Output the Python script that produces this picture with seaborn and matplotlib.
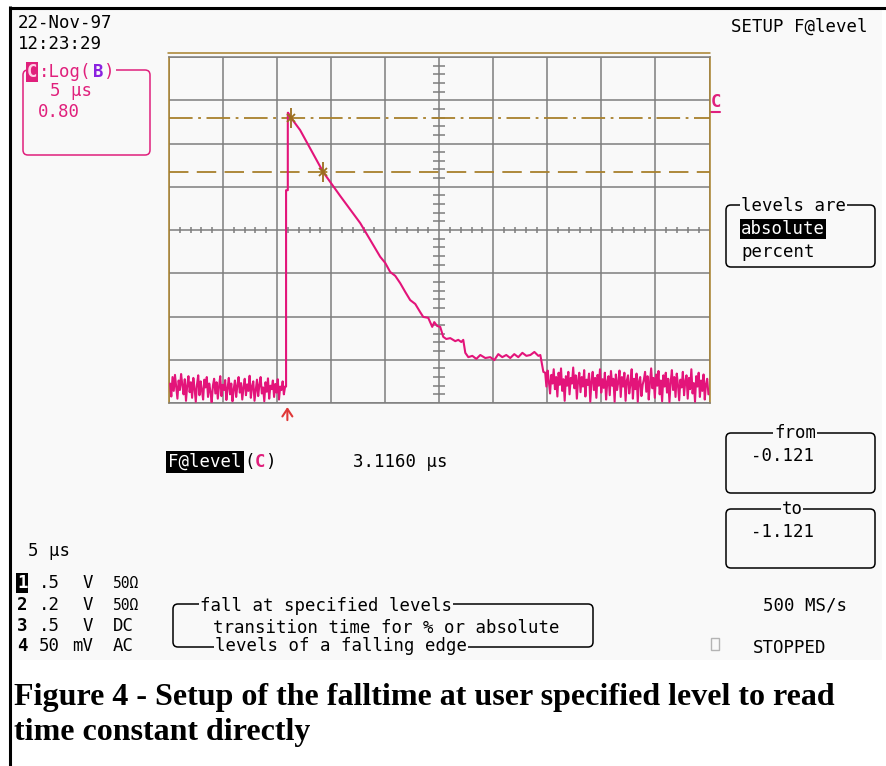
import numpy as np
import pandas as pd
import matplotlib
matplotlib.use("Agg")
import matplotlib.pyplot as plt
import seaborn as sns
from matplotlib.patches import FancyBboxPatch, Rectangle

# ---------------- data ----------------
# time axis: 5 us/div, 10 divisions ; vertical: 8 divisions (channel C = Log(B), 0.80/div)
time_limits = [-25, 25]
level_limits = [-4, 4]
time_major = [-25, -20, -15, -10, -5, 0, 5, 10, 15, 20, 25]
level_major = [-4, -3, -2, -1, 0, 1, 2, 3, 4]

# pre-trigger noise (levels in divisions), sampled from -24.9 us to -14.3 us
pre_level = [-3.55, -3.85, -3.40, -3.72, -3.35, -3.62, -3.90, -3.48, -3.70, -3.33,
             -3.58, -3.80, -3.45, -3.95, -3.60, -3.38, -3.75, -3.52, -3.88, -3.42,
             -3.66, -3.97, -3.57, -3.36, -3.82, -3.50, -3.70, -3.92, -3.46, -3.64,
             -3.40, -3.86, -3.55, -3.74, -3.98, -3.60, -3.44, -3.78, -3.52, -3.90,
             -3.62, -3.38, -3.84, -3.58, -3.70, -3.47, -3.93, -3.66, -3.42, -3.80,
             -3.55, -3.96, -3.68, -3.48, -3.86, -3.60, -3.40, -3.76, -3.54, -3.92,
             -3.64, -3.44, -3.82, -3.57, -3.72, -3.37, -3.88, -3.62, -3.50, -3.95,
             -3.70, -3.46, -3.84, -3.58, -3.40, -3.78, -3.64, -3.96, -3.52, -3.74,
             -3.43, -3.90, -3.60, -3.68, -3.48, -3.86, -3.56, -3.76, -3.45, -3.92,
             -3.62, -3.70, -3.50, -3.80, -3.62]
pre_span = [-24.9, -14.26]

# rising edge + exponential-like fall + plateau
pulse_time = [-14.17, -14.17, -14.01, -14.01, -13.98, -13.70, -12.87, -10.74, -9.17,
              -7.31, -6.39, -5.46, -5.00, -4.54, -4.07, -3.61, -3.15, -2.69, -2.22,
              -1.76, -1.48, -1.02, -0.65, -0.46, -0.19, 0.09, 0.37, 0.65, 1.02, 1.48,
              1.76, 2.04, 2.22, 2.41, 2.69, 3.06, 3.43, 3.80, 4.26, 4.72, 5.09, 5.46,
              5.83, 6.20, 6.57, 6.94, 7.31, 7.69, 8.06, 8.43, 8.80, 9.17, 9.35, 9.63]
pulse_level = [-3.62, 0.92, 0.92, 2.71, 2.71, 2.59, 2.31, 1.34, 0.79,
               0.16, -0.23, -0.62, -0.76, -0.97, -1.06, -1.23, -1.43, -1.62, -1.71,
               -1.90, -2.01, -2.03, -2.24, -2.13, -2.22, -2.24, -2.47, -2.52, -2.50, -2.57,
               -2.54, -2.59, -2.54, -2.84, -2.94, -2.91, -2.98, -2.89, -2.96, -2.94, -3.01, -2.87,
               -2.94, -2.89, -2.96, -2.87, -2.94, -2.84, -2.91, -2.89, -2.82, -2.91, -2.89, -3.28]

# post-step noise, sampled from 9.8 us to 24.9 us
post_level = [-3.30, -3.62, -3.25, -3.50, -3.78, -3.35, -3.55, -3.22, -3.68, -3.40,
              -3.85, -3.30, -3.58, -3.20, -3.72, -3.45, -3.95, -3.38, -3.60, -3.28,
              -3.80, -3.42, -3.55, -3.18, -3.66, -3.36, -3.90, -3.48, -3.30, -3.75,
              -3.40, -3.62, -3.24, -3.85, -3.46, -3.58, -3.32, -3.97, -3.50, -3.28,
              -3.70, -3.42, -3.88, -3.35, -3.60, -3.22, -3.76, -3.45, -3.65, -3.30,
              -3.92, -3.50, -3.38, -3.82, -3.26, -3.60, -3.44, -3.97, -3.34, -3.70,
              -3.52, -3.25, -3.86, -3.40, -3.62, -3.30, -3.95, -3.48, -3.36, -3.78,
              -3.56, -3.22, -3.90, -3.44, -3.68, -3.32, -3.97, -3.50, -3.40, -3.84,
              -3.58, -3.46, -3.28, -3.74, -3.38, -3.92, -3.54, -3.20, -3.66, -3.42,
              -3.88, -3.34, -3.60, -3.26, -3.80, -3.48, -3.96, -3.36, -3.62, -3.30,
              -3.76, -3.44, -3.98, -3.52, -3.24, -3.70, -3.40, -3.86, -3.32, -3.58,
              -3.94, -3.46, -3.64, -3.28, -3.82, -3.50, -3.36, -3.90, -3.42, -3.68,
              -3.22, -3.78, -3.54, -3.97, -3.38, -3.62, -3.30, -3.86, -3.48, -3.72,
              -3.34, -3.92, -3.56, -3.44, -3.80]
post_span = [9.8, 24.9]

# measurement cursors (absolute levels) and their crossing points
cursor_from_level = 2.58
cursor_to_level = 1.34
cross_time = [-13.70, -10.74]
cross_level = [2.58, 1.34]
trigger_time = -14.05

# channel settings
ch_ids = ["1", "2", "3", "4"]
ch_scale = [".5", ".2", ".5", "50"]
ch_unit = ["V", "V", "V", "mV"]
ch_coupling = ["50Ω", "50Ω", "DC", "AC"]

caption_lines = ["Figure 4 - Setup of the falltime at user specified level to read",
                 "time constant directly"]

# ---------------- styling ----------------
sns.set_theme(style="white")
plt.rcParams["font.family"] = ["DejaVu Sans Mono", "DejaVu Sans"]
plt.rcParams["lines.scale_dashes"] = False

W, H = 886, 766
BG = "#f9f9f9"
MAG = "#e0207c"
TRACE = "#e3147a"
GOLD = "#a8802c"
GRID = "#7e7e7e"
PURPLE = "#8a22e0"
MONO = ["DejaVu Sans Mono", "DejaVu Sans"]
FS = 12.5

fig = plt.figure(figsize=(W / 100, H / 100), dpi=100)
fig.patch.set_facecolor("white")

# overlay axes in pixel coordinates for screen annotations
ov = fig.add_axes([0, 0, 1, 1], zorder=0)
ov.set_xlim(0, W)
ov.set_ylim(H, 0)
ov.axis("off")

ov.add_patch(Rectangle((11, 9), 871, 651, facecolor=BG, edgecolor="none"))
ov.plot([9, W], [7.5, 7.5], color="black", lw=2.2, solid_capstyle="butt")
ov.plot([10, 10], [6, H], color="black", lw=2.2, solid_capstyle="butt")


def txt(x, y, s, color="black", weight="normal", size=FS, bg=None, ha="left", pad=0.8):
    kw = {}
    if bg is not None:
        kw["bbox"] = dict(facecolor=bg, edgecolor="none", pad=pad)
    return ov.text(x, y, s, color=color, fontsize=size, fontweight=weight,
                   family=MONO, ha=ha, va="baseline", **kw)


def rbox(x, y, w, h, color="black"):
    ov.add_patch(FancyBboxPatch((x, y), w, h, boxstyle="round,pad=0,rounding_size=5",
                                facecolor="none", edgecolor=color, lw=1.1))


# top-left
txt(18, 28, "22-Nov-97")
txt(18, 49, "12:23:29")
rbox(23, 70, 127, 85, MAG)
txt(27, 77, "C", color="#ffd0e6", weight="bold", bg=MAG, pad=1.0)
txt(39, 77, ":Log(", color=MAG, bg=BG, pad=1.0)
txt(93, 77, "B", color=PURPLE, weight="bold", bg=BG, pad=1.0)
txt(104, 77, ")", color=MAG, bg=BG, pad=1.0)
txt(50, 96, "5 μs", color=MAG)
txt(38, 117, "0.80", color=MAG)

# top-right
txt(731, 32, "SETUP F@level")
rbox(726, 205, 149, 62)
txt(741, 211, "levels are", bg=BG, pad=1.0)
txt(741, 234, "absolute", color="white", bg="black", pad=1.0)
txt(741, 257, "percent")

# channel C marker on right of grid
txt(711, 107, "C", color=MAG, weight="bold")
ov.plot([711, 720], [111.5, 111.5], color=MAG, lw=1.5)

# measurement readout
txt(168, 467, "F@level", color="white", bg="black", pad=1.6)
txt(244.5, 467, "(")
txt(255, 467, "C", color=MAG, weight="bold")
txt(265.5, 467, ")")
txt(353, 467, "3.1160 μs")

# from / to boxes
rbox(726, 433, 149, 60)
txt(795, 438, "from", bg=BG, ha="center", pad=0.6)
txt(751, 461, "-0.121")
rbox(726, 509, 149, 59)
txt(792, 514, "to", bg=BG, ha="center", pad=0.6)
txt(751, 537, "-1.121")

# timebase and channels
txt(28, 556, "5 μs")
row_base = [588, 610, 631, 651]
for i in range(4):
    yb = row_base[i]
    if i == 0:
        txt(17, yb, ch_ids[i], color="white", weight="bold", bg="black", pad=0.6)
    else:
        txt(17, yb, ch_ids[i], weight="bold")
    txt(39, yb, ch_scale[i])
    txt(93, yb, ch_unit[i], ha="right")
    if "Ω" in ch_coupling[i]:
        txt(113, yb, ch_coupling[i], size=10.5)
    else:
        txt(113, yb, ch_coupling[i])

# help box
rbox(173, 604, 420, 43)
txt(200, 611, "fall at specified levels", bg=BG, pad=1.0)
txt(213, 633, "transition time for % or absolute")
txt(215, 651, "levels of a falling edge", bg=BG, pad=1.0)

txt(763, 610, "500 MS/s")
ov.add_patch(Rectangle((711, 638), 8, 12, facecolor="none", edgecolor="#b4b4b4", lw=1))
txt(753, 653, "STOPPED")

# caption
renderer = fig.canvas.get_renderer()
cap1 = ov.text(14, 705, caption_lines[0], family=["Liberation Serif"], fontweight="bold",
               fontsize=20, va="baseline", color="black")
wpx = cap1.get_window_extent(renderer).width
cap_fs = 20 * 822.0 / wpx
cap1.set_fontsize(cap_fs)
ov.text(14, 740, caption_lines[1], family=["Liberation Serif"], fontweight="bold",
        fontsize=cap_fs, va="baseline", color="black")

# ---------------- graticule ----------------
x0, x1, ytop, ybot = 169, 709.5, 57, 403
ax = fig.add_axes([x0 / W, (H - ybot) / H, (x1 - x0) / W, (ybot - ytop) / H], zorder=1)
ax.set_facecolor(BG)
ax.set_xlim(*time_limits)
ax.set_ylim(*level_limits)
ax.set_xticks(time_major)
ax.set_yticks(level_major)
ax.tick_params(length=0, labelbottom=False, labelleft=False)
ax.grid(True, color=GRID, lw=1.1)
ax.set_axisbelow(True)
for side, col in [("left", GOLD), ("right", GOLD), ("top", GRID), ("bottom", GRID)]:
    ax.spines[side].set_visible(True)
    ax.spines[side].set_color(col)
    ax.spines[side].set_linewidth(1.1)

# minor ticks on the centre cross
xt = [v for v in range(-24, 25) if v % 5 != 0]
ax.vlines(xt, -0.08, 0.08, color=GRID, lw=1.1, zorder=1)
yt = [k / 5 for k in range(-19, 20) if k % 5 != 0]
ax.hlines(yt, -0.56, 0.56, color=GRID, lw=1.1, zorder=1)

# cursor frame line above the grid
ax.axhline(4.104, color=GOLD, lw=1.1, clip_on=False, xmin=-0.002, xmax=1.0)

# cursors
l1 = ax.axhline(cursor_from_level, color=GOLD, lw=1.3, zorder=2)
l1.set_dashes([17, 4, 2, 4])
l2 = ax.axhline(cursor_to_level, color=GOLD, lw=1.3, zorder=2)
l2.set_dashes([14, 6])

# trace
t_pre = np.linspace(pre_span[0], pre_span[1], len(pre_level))
t_post = np.linspace(post_span[0], post_span[1], len(post_level))
df = pd.DataFrame({
    "time": np.concatenate([t_pre, pulse_time, t_post]),
    "level": np.concatenate([pre_level, pulse_level, post_level]),
})
sns.lineplot(data=df, x="time", y="level", sort=False, estimator=None,
             color=TRACE, lw=1.5, ax=ax, legend=False, zorder=3)
ax.set_xlabel("")
ax.set_ylabel("")

# crossing markers
ax.plot(cross_time, cross_level, ls="none", marker="|", ms=14, mew=1.3, color="#9a6e1e", zorder=4)
ax.plot(cross_time, cross_level, ls="none", marker="x", ms=6, mew=1.3, color="#9a6e1e", zorder=4)

# trigger arrow
ax.annotate("", xy=(trigger_time, level_limits[0] - 0.03), xytext=(trigger_time, level_limits[0] - 0.46),
            arrowprops=dict(arrowstyle="->,head_length=0.45,head_width=0.3", color="#e03838", lw=1.5),
            annotation_clip=False)

fig.savefig("out.png", dpi=100, facecolor="white")
